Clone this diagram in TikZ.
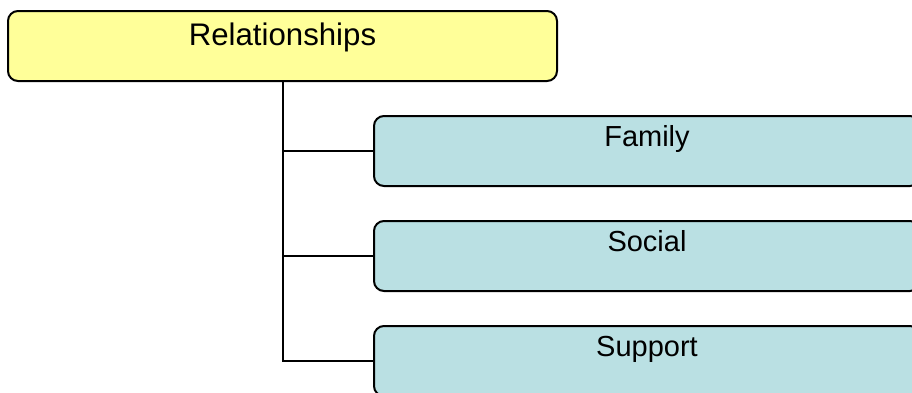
\documentclass[tikz,border=0pt]{standalone}
\usepackage{fontspec}
\setmainfont{Liberation Sans}
\definecolor{rootyellow}{RGB}{255, 255, 153}
\definecolor{childteal}{RGB}{186, 224, 227}
\tikzset{
  rootbox/.style={draw=black, line width=1pt, fill=rootyellow, rounded corners=5pt,
    minimum width=274.5pt, minimum height=35pt, font=\fontsize{15.6}{18}\selectfont,
    text height=10.5pt, text depth=11.4pt},
  childbox/.style={draw=black, line width=1pt, fill=childteal, rounded corners=5pt,
    minimum width=273pt, minimum height=35pt, font=\fontsize{14.5}{17}\selectfont,
    text height=10pt, text depth=14.4pt},
  branch/.style={draw=black, line width=1pt}
}
\begin{document}
\begin{tikzpicture}[x=0.5pt, y=-0.5pt]
  \useasboundingbox (0,0) rectangle (912,392);
  \clip (0,0) rectangle (912,392);
  % Top box
  \node[rootbox] (rel) at (282.5,46) {Relationships};
  % Child boxes
  \node[childbox] (family) at (647,151) {Family};
  \node[childbox] (social) at (647,256) {Social};
  \node[childbox] (support) at (647,361) {Support};
  % Connectors
  \draw[branch] (rel.south) -- (rel.south |- support.west) -- (support.west);
  \draw[branch] (rel.south |- family.west) -- (family.west);
  \draw[branch] (rel.south |- social.west) -- (social.west);
\end{tikzpicture}
\end{document}
